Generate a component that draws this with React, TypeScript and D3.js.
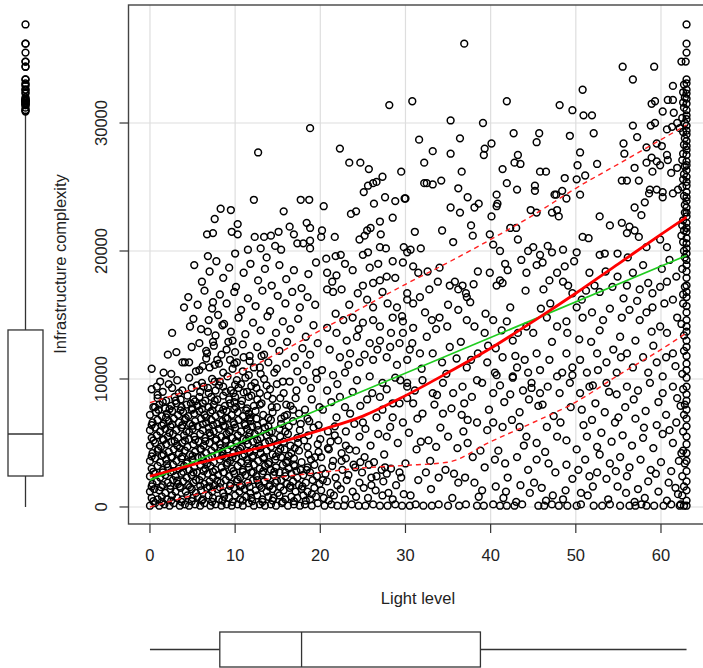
import { useEffect, useRef } from "react"
import * as d3 from "d3"

// Point clouds: flat [light, complexity (thousands), ...] pairs
const coreBottom = [
  0, 0.1, 0.6, 0.3, 1.1, 0.1, 1.7, 0.2, 2.3, 0.1, 2.8, 0.3, 3.5, 0.1, 4.1, 0.2, 4.6, 0.1, 5.3, 0.2, 5.9, 0.1, 6.4, 0.3,
  7.1, 0.1, 7.7, 0.2, 8.4, 0.1, 9.0, 0.2, 9.6, 0.1, 10.3, 0.2, 10.9, 0.1, 11.6, 0.3, 12.2, 0.1, 12.9, 0.2, 13.5, 0.1,
  14.2, 0.2, 14.8, 0.1, 15.5, 0.3, 16.2, 0.1, 16.9, 0.2, 17.6, 0.1, 18.2, 0.2, 19.0, 0.1, 19.7, 0.3, 20.5, 0.1, 21.3, 0.2,
  22.0, 0.1, 22.8, 0.1, 23.7, 0.2, 24.5, 0.1, 25.3, 0.1, 26.2, 0.2, 27.0, 0.1, 27.9, 0.1, 28.8, 0.2, 29.6, 0.1,
  0.2, 0.7, 0.9, 0.6, 1.4, 0.8, 2.0, 0.6, 2.6, 0.9, 3.2, 0.7, 3.8, 0.6, 4.4, 0.9, 5.0, 0.7, 5.6, 0.8, 6.2, 0.6, 6.9, 0.9,
  7.4, 0.7, 8.1, 0.6, 8.7, 0.8, 9.3, 0.7, 10.0, 0.9, 10.6, 0.6, 11.3, 0.8, 11.9, 0.7, 12.6, 0.9, 13.2, 0.6, 13.9, 0.8,
  14.5, 0.7, 15.2, 0.9, 15.9, 0.6, 16.6, 0.8, 17.3, 0.7, 18.0, 0.9, 18.8, 0.6, 19.5, 0.8, 20.4, 0.7, 21.6, 0.9, 22.9, 0.6,
  24.2, 0.8, 25.6, 0.7, 27.3, 0.9,
]
const coreLow = [
  0.0, 1.2, 0.5, 1.4, 1.1, 1.3, 1.8, 1.1, 2.4, 1.4, 3.0, 1.2, 3.6, 1.5, 4.2, 1.2, 4.9, 1.4, 5.4, 1.1, 6.0, 1.3, 6.7, 1.5,
  7.3, 1.2, 7.9, 1.4, 8.6, 1.1, 9.2, 1.3, 9.9, 1.5, 10.5, 1.2, 11.1, 1.4, 11.8, 1.1, 12.4, 1.3, 13.1, 1.5, 13.7, 1.2,
  14.4, 1.4, 15.0, 1.1, 15.7, 1.3, 16.4, 1.5, 17.1, 1.2, 17.8, 1.4, 18.5, 1.2, 19.3, 1.5, 20.1, 1.3, 21.2, 1.1, 22.4, 1.4,
  23.8, 1.2, 25.1, 1.5, 26.5, 1.3, 28.0, 1.1,
  0.3, 1.8, 0.8, 2.0, 1.5, 1.7, 2.1, 1.9, 2.7, 2.1, 3.3, 1.8, 3.9, 2.0, 4.5, 1.7, 5.1, 1.9, 5.8, 2.1, 6.4, 1.8, 7.0, 2.0,
  7.6, 1.7, 8.3, 1.9, 8.9, 2.1, 9.5, 1.8, 10.2, 2.0, 10.8, 1.7, 11.5, 1.9, 12.1, 2.1, 12.8, 1.8, 13.4, 2.0, 14.1, 1.7,
  14.7, 1.9, 15.4, 2.1, 16.1, 1.8, 16.8, 2.0, 17.5, 1.7, 18.3, 1.9, 19.1, 2.1, 19.9, 1.8, 20.8, 2.0, 22.0, 1.7, 23.1, 2.1,
  24.6, 1.9, 26.0, 1.7, 27.4, 2.0,
]
const coreMid = [
  0.0, 2.4, 0.6, 2.6, 1.2, 2.3, 1.8, 2.5, 2.4, 2.7, 3.0, 2.4, 3.7, 2.6, 4.3, 2.3, 4.9, 2.5, 5.5, 2.7, 6.1, 2.4, 6.8, 2.6,
  7.4, 2.3, 8.0, 2.5, 8.7, 2.7, 9.3, 2.4, 9.9, 2.6, 10.6, 2.3, 11.2, 2.5, 11.9, 2.7, 12.5, 2.4, 13.2, 2.6, 13.8, 2.3,
  14.5, 2.5, 15.2, 2.7, 15.9, 2.4, 16.6, 2.6, 17.3, 2.3, 18.0, 2.5, 18.8, 2.7, 19.6, 2.4, 20.6, 2.6, 21.8, 2.3, 23.3, 2.5,
  24.9, 2.7, 26.6, 2.4,
  0.2, 3.0, 0.9, 3.2, 1.5, 2.9, 2.1, 3.1, 2.7, 3.3, 3.4, 3.0, 4.0, 3.2, 4.6, 2.9, 5.2, 3.1, 5.9, 3.3, 6.5, 3.0, 7.1, 3.2,
  7.7, 2.9, 8.4, 3.1, 9.0, 3.3, 9.6, 3.0, 10.3, 3.2, 10.9, 2.9, 11.6, 3.1, 12.2, 3.3, 12.9, 3.0, 13.5, 3.2, 14.2, 2.9,
  14.8, 3.1, 15.6, 3.3, 16.3, 3.0, 17.0, 3.2, 17.7, 2.9, 18.5, 3.1, 19.3, 3.3, 20.2, 3.0, 21.4, 3.2, 22.6, 2.9, 24.1, 3.1,
  25.7, 3.3, 27.2, 2.9,
]
const coreUpper = [
  0.0, 3.6, 0.6, 3.8, 1.2, 3.5, 1.9, 3.7, 2.5, 3.9, 3.1, 3.6, 3.7, 3.8, 4.4, 3.5, 5.0, 3.7, 5.6, 3.9, 6.3, 3.6, 6.9, 3.8,
  7.5, 3.5, 8.2, 3.7, 8.8, 3.9, 9.4, 3.6, 10.1, 3.8, 10.7, 3.5, 11.4, 3.7, 12.0, 3.9, 12.7, 3.6, 13.3, 3.8, 14.0, 3.5,
  14.7, 3.7, 15.4, 3.9, 16.1, 3.6, 16.9, 3.8, 17.8, 3.5, 18.9, 3.7, 20.1, 3.9, 21.5, 3.6, 23.0, 3.8, 24.7, 3.5,
  0.3, 4.2, 0.9, 4.4, 1.6, 4.1, 2.2, 4.3, 2.8, 4.5, 3.4, 4.2, 4.1, 4.4, 4.7, 4.1, 5.3, 4.3, 6.0, 4.5, 6.6, 4.2, 7.2, 4.4,
  7.9, 4.1, 8.5, 4.3, 9.1, 4.5, 9.8, 4.2, 10.4, 4.4, 11.1, 4.1, 11.7, 4.3, 12.4, 4.5, 13.0, 4.2, 13.7, 4.4, 14.4, 4.1,
  15.1, 4.3, 15.8, 4.5, 16.6, 4.2, 17.5, 4.4, 18.6, 4.1, 19.8, 4.3, 21.0, 4.5, 22.5, 4.2, 24.2, 4.4,
  0.0, 4.8, 0.6, 5.0, 1.3, 4.7, 1.9, 4.9, 2.5, 5.1, 3.2, 4.8, 3.8, 5.0, 4.4, 4.7, 5.1, 4.9, 5.7, 5.1, 6.3, 4.8, 7.0, 5.0,
  7.6, 4.7, 8.2, 4.9, 8.9, 5.1, 9.5, 4.8, 10.2, 5.0, 10.8, 4.7, 11.5, 4.9, 12.1, 5.1, 12.8, 4.8, 13.5, 5.0, 14.2, 4.7,
  14.9, 4.9, 15.7, 5.1, 16.5, 4.8, 17.4, 5.0, 18.5, 4.7, 19.7, 4.9, 21.2, 5.1, 23.0, 4.8,
]
const coreTop = [
  0.2, 5.4, 0.8, 5.6, 1.5, 5.3, 2.1, 5.5, 2.7, 5.7, 3.3, 5.4, 4.0, 5.6, 4.6, 5.3, 5.2, 5.5, 5.9, 5.7, 6.5, 5.4, 7.1, 5.6,
  7.8, 5.3, 8.4, 5.5, 9.0, 5.7, 9.7, 5.4, 10.3, 5.6, 11.0, 5.3, 11.6, 5.5, 12.3, 5.7, 13.0, 5.4, 13.7, 5.6, 14.5, 5.3,
  15.3, 5.5, 16.2, 5.7, 17.3, 5.4, 18.6, 5.6, 20.0, 5.3, 21.7, 5.6,
  0.0, 6.0, 0.6, 6.2, 1.2, 5.9, 1.8, 6.1, 2.4, 6.3, 3.1, 6.0, 3.7, 6.2, 4.3, 5.9, 5.0, 6.1, 5.6, 6.3, 6.2, 6.0, 6.9, 6.2,
  7.5, 5.9, 8.1, 6.1, 8.8, 6.3, 9.4, 6.0, 10.0, 6.2, 10.7, 5.9, 11.4, 6.1, 12.0, 6.3, 12.7, 6.0, 13.5, 6.2, 14.3, 5.9,
  15.2, 6.1, 16.3, 6.3, 17.6, 6.0, 19.2, 6.2, 20.9, 5.9,
  0.3, 6.6, 0.9, 6.8, 1.6, 6.5, 2.2, 6.7, 2.8, 6.9, 3.4, 6.6, 4.1, 6.8, 4.7, 6.5, 5.3, 6.7, 6.0, 6.9, 6.6, 6.6, 7.2, 6.8,
  7.9, 6.5, 8.5, 6.7, 9.1, 6.9, 9.8, 6.6, 10.4, 6.8, 11.1, 6.5, 11.8, 6.7, 12.5, 6.9, 13.3, 6.6, 14.2, 6.8, 15.4, 6.5,
  16.8, 6.7, 18.5, 6.9,
]
const coreCap = [
  0.0, 7.2, 0.7, 7.4, 1.4, 7.1, 2.0, 7.3, 2.6, 7.5, 3.3, 7.2, 3.9, 7.4, 4.5, 7.1, 5.2, 7.3, 5.8, 7.5, 6.4, 7.2, 7.1, 7.4,
  7.7, 7.1, 8.3, 7.3, 9.0, 7.5, 9.6, 7.2, 10.3, 7.4, 10.9, 7.1, 11.6, 7.3, 12.4, 7.5, 13.3, 7.2, 14.4, 7.4, 15.8, 7.1,
  17.5, 7.3,
  0.4, 7.8, 1.1, 8.0, 1.8, 7.7, 2.5, 7.9, 3.1, 8.1, 3.7, 7.8, 4.3, 8.0, 5.0, 7.7, 5.6, 7.9, 6.2, 8.1, 6.9, 7.8, 7.5, 8.0,
  8.1, 7.7, 8.8, 7.9, 9.4, 8.1, 10.1, 7.8, 10.7, 8.0, 11.4, 7.7, 12.2, 7.9, 13.1, 8.1, 14.3, 7.8, 16.0, 8.0,
  0.9, 8.5, 1.9, 8.3, 2.9, 8.6, 3.6, 8.4, 4.4, 8.7, 5.1, 8.4, 5.8, 8.6, 6.5, 8.3, 7.2, 8.6, 7.9, 8.4, 8.6, 8.7, 9.3, 8.4,
  10.0, 8.6, 10.8, 8.3, 11.6, 8.6, 12.6, 8.4, 13.8, 8.7, 15.3, 8.5,
  0.2, 9.2, 1.5, 9.0, 2.6, 9.3, 3.8, 9.1, 4.9, 9.3, 5.9, 9.0, 6.8, 9.3, 7.7, 9.1, 8.6, 9.4, 9.5, 9.1, 10.4, 9.3, 11.4, 9.0,
  12.5, 9.3, 14.1, 9.2,
]
// extra points filling the darkest part of the cloud
const coreInfill = [
  0.4, 0.45, 1.4, 0.4, 2.5, 0.5, 3.7, 0.4, 4.9, 0.45, 6.1, 0.5, 7.3, 0.4, 8.5, 0.5, 9.7, 0.4, 10.9, 0.5, 12.0, 0.45,
  13.2, 0.4, 14.4, 0.5, 15.6, 0.4, 16.9, 0.45, 18.3, 0.5,
  0.2, 1.6, 1.3, 1.55, 2.4, 1.65, 3.5, 1.6, 4.7, 1.55, 5.9, 1.65, 7.0, 1.6, 8.2, 1.55, 9.4, 1.65, 10.6, 1.6, 11.7, 1.55,
  12.9, 1.65, 14.0, 1.6, 15.3, 1.55, 16.5, 1.65, 17.9, 1.6,
  0.4, 2.75, 1.5, 2.7, 2.7, 2.8, 3.9, 2.75, 5.1, 2.7, 6.3, 2.8, 7.4, 2.75, 8.6, 2.7, 9.8, 2.8, 10.9, 2.75, 12.1, 2.7,
  13.3, 2.8, 14.6, 2.75, 15.9, 2.7, 17.2, 2.8,
  0.2, 3.95, 1.4, 4.0, 2.6, 3.9, 3.8, 3.95, 5.0, 4.0, 6.1, 3.9, 7.3, 3.95, 8.5, 4.0, 9.7, 3.9, 10.9, 3.95, 12.1, 4.0,
  13.4, 3.9, 14.8, 3.95, 16.3, 4.0,
  0.4, 5.2, 1.6, 5.25, 2.9, 5.15, 4.1, 5.2, 5.3, 5.25, 6.5, 5.15, 7.7, 5.2, 8.9, 5.25, 10.1, 5.15, 11.3, 5.2, 12.6, 5.25,
  14.0, 5.15,
  0.2, 6.4, 1.4, 6.35, 2.6, 6.45, 3.8, 6.4, 5.0, 6.35, 6.2, 6.45, 7.4, 6.4, 8.6, 6.35, 9.9, 6.45, 11.2, 6.4, 12.6, 6.35,
  1.0, 7.6, 2.3, 7.65, 3.6, 7.55, 4.9, 7.6, 6.1, 7.65, 7.3, 7.55, 8.6, 7.6, 9.9, 7.65, 11.3, 7.55,
  2.2, 9.6, 3.4, 8.9, 4.8, 8.1, 5.5, 9.5, 6.9, 8.9, 7.6, 9.8, 8.9, 9.0, 9.9, 8.2, 10.7, 9.6, 11.9, 8.7, 12.9, 8.0,
  13.7, 9.5, 14.9, 7.8, 15.4, 6.9, 16.8, 7.6, 13.9, 6.3, 11.7, 6.9, 15.9, 5.9, 17.0, 4.6, 18.1, 5.2, 16.9, 3.3,
  18.4, 2.9, 19.4, 3.9, 20.3, 2.1, 21.0, 0.5, 19.0, 1.0,
]
const coreInfillDeep = [
  3.2, 2.05, 5.4, 2.1, 7.9, 2.05, 10.3, 2.15, 12.6, 2.1, 14.9, 2.05,
  2.0, 3.35, 4.3, 3.4, 6.7, 3.35, 9.1, 3.45, 11.5, 3.4, 13.9, 3.35, 16.0, 3.45,
  1.0, 4.55, 3.5, 4.6, 5.9, 4.55, 8.3, 4.6, 10.6, 4.55, 12.9, 4.6, 15.3, 4.55,
  2.3, 5.8, 4.6, 5.85, 7.0, 5.8, 9.3, 5.85, 11.7, 5.8, 14.0, 5.85,
  1.9, 7.0, 4.2, 6.95, 6.6, 7.0, 8.9, 6.95, 11.8, 7.0, 13.9, 6.95,
  3.0, 8.3, 5.3, 8.25, 7.6, 8.3, 9.8, 8.9, 11.0, 8.95, 12.9, 8.9, 14.4, 8.45,
  6.3, 9.4, 8.1, 9.5, 10.0, 9.55, 11.9, 9.45, 13.0, 10.4, 11.6, 10.3,
]
const coreFringe = [
  1.2, 9.8, 3.2, 9.9, 4.6, 10.1, 6.1, 9.7, 7.3, 10.0, 8.2, 9.8, 9.1, 10.2, 10.2, 9.9, 11.2, 10.1, 12.3, 9.7, 13.4, 10.0,
  15.6, 9.8, 0.2, 10.8, 2.5, 10.4, 5.4, 10.6, 7.0, 10.9, 8.6, 10.5, 9.7, 10.8, 10.9, 10.6, 12.2, 10.9, 14.6, 10.5,
  4.1, 11.3, 6.6, 11.6, 8.1, 11.2, 9.4, 11.5, 11.7, 11.4, 13.1, 11.8, 1.6, 10.5, 2.1, 11.9, 3.8, 11.3, 4.6, 11.3,
  5.8, 10.7, 4.9, 12.5, 6.8, 13.7, 8.0, 15.0, 8.5, 14.2, 7.4, 12.9, 4.7, 14.1, 7.4, 16.0, 6.7, 12.0, 7.9, 11.5,
  9.0, 12.3, 9.7, 13.0, 10.2, 11.3, 0.8, 9.4, 0.9, 8.75, 1.5, 8.2, 0.6, 7.8, 2.6, 13.6, 4.0, 15.6, 3.1, 12.1,
]
const leftScatter = [
  5.2, 18.9, 6.1, 17.6, 7.0, 18.4, 7.8, 19.2, 8.6, 17.9, 9.3, 18.7, 10.1, 17.2, 11.0, 18.3, 11.8, 19.0, 12.7, 17.7,
  13.5, 18.6, 14.3, 17.3, 15.2, 18.9, 16.0, 17.8, 16.9, 18.5, 17.8, 17.1, 18.6, 18.2, 19.5, 19.1,
  4.5, 16.4, 5.6, 15.8, 6.4, 16.9, 7.3, 15.5, 8.2, 16.6, 9.0, 15.9, 9.9, 16.8, 10.7, 15.4, 11.5, 16.3, 12.4, 15.7,
  13.2, 16.9, 14.1, 15.3, 15.0, 16.5, 15.9, 15.9, 16.7, 16.8, 17.6, 15.6, 18.5, 16.4, 19.4, 15.8,
  5.1, 14.7, 6.0, 13.9, 6.9, 14.6, 7.7, 13.4, 8.7, 14.3, 9.5, 13.7, 10.4, 14.8, 11.2, 13.5, 12.1, 14.4, 13.0, 13.8,
  13.8, 14.9, 14.8, 13.6, 15.6, 14.5, 16.5, 13.9, 17.4, 14.7, 18.3, 13.3, 19.2, 14.2,
  5.8, 12.8, 6.6, 12.2, 7.5, 12.6, 8.4, 11.9, 9.2, 12.9, 10.0, 12.1, 10.9, 12.7, 11.7, 11.8, 12.6, 12.5, 13.4, 11.9,
  14.3, 12.8, 15.2, 12.2, 16.1, 12.9, 17.0, 11.7, 17.9, 12.4, 18.8, 11.9, 19.7, 12.8,
  6.2, 11.0, 7.6, 11.1, 9.9, 11.2, 11.0, 11.7, 12.9, 10.9, 13.9, 11.3, 14.9, 10.8, 16.0, 11.2, 17.3, 10.6, 18.4, 11.1,
  19.5, 10.5, 14.9, 9.6, 15.7, 8.9, 16.4, 9.8, 17.2, 9.1, 18.0, 9.9, 18.9, 9.3, 19.6, 10.0, 16.5, 7.9, 17.1, 8.5,
  18.2, 7.6, 19.0, 8.4, 19.9, 7.8, 16.1, 7.2, 18.7, 6.7, 19.8, 6.4, 17.7, 6.5,
]
const upperLeft = [
  28.1, 31.4, 18.8, 29.6, 12.7, 27.7, 22.3, 28.0, 23.4, 26.9, 24.7, 26.9, 25.7, 26.4, 29.5, 26.2, 27.3, 25.8, 26.6, 25.4,
  26.2, 25.3, 25.6, 25.1, 25.1, 24.6, 32.2, 25.3, 12.2, 24.0, 17.7, 24.0, 18.7, 24.0, 20.4, 23.5, 26.3, 23.7, 27.6, 24.2,
  28.8, 23.9, 29.9, 24.1, 8.3, 23.3, 9.5, 23.2, 7.6, 22.5, 15.7, 23.1, 23.6, 22.9, 24.2, 23.1, 28.5, 22.6, 27.0, 22.3,
  6.7, 21.3, 7.4, 21.4, 9.6, 21.5, 10.3, 22.1, 10.3, 21.3, 12.3, 21.1, 13.4, 21.1, 14.2, 21.2, 15.1, 21.5, 16.4, 21.9,
  16.9, 21.3, 18.4, 22.2, 18.8, 21.8, 20.2, 21.6, 20.1, 21.1, 21.7, 21.1, 24.6, 20.9, 25.2, 21.2, 25.5, 21.6, 25.9, 21.8,
  27.1, 21.3, 31.1, 21.5, 6.8, 19.6, 10.0, 19.8, 11.5, 20.1, 13.0, 20.2, 13.7, 19.5, 14.7, 20.4, 15.4, 20.1, 17.3, 20.6,
  18.0, 20.6, 18.8, 20.8, 18.8, 20.2, 21.8, 19.6, 22.4, 19.7, 25.0, 19.7, 25.6, 19.9, 27.0, 20.3, 27.7, 20.2, 29.8, 20.3,
  30.6, 20.1, 31.8, 20.2,
]
const midBand = [
  20.8, 18.3, 21.4, 17.6, 21.9, 18.1, 22.5, 17.0, 20.8, 17.0, 21.5, 16.8, 23.8, 18.5, 25.8, 18.7, 26.2, 17.5, 27.0, 17.7,
  27.8, 18.0, 28.8, 17.9, 27.3, 16.8, 24.4, 16.7, 25.5, 16.2, 26.2, 15.6, 27.9, 15.9, 29.0, 15.6, 30.2, 16.2,
  22.7, 14.6, 23.8, 14.8, 25.0, 14.4, 26.2, 14.6, 27.0, 14.1, 28.5, 14.8, 29.7, 14.5, 30.9, 14.0,
  20.8, 14.0, 21.9, 13.6, 23.1, 13.0, 24.3, 13.3, 25.8, 12.8, 27.0, 13.0, 28.2, 12.5, 29.3, 12.8, 30.5, 12.3,
  21.1, 12.3, 22.3, 11.7, 23.5, 12.0, 24.6, 11.3, 26.2, 11.5, 27.8, 11.7, 29.0, 11.1, 30.2, 11.5,
  20.2, 10.7, 21.5, 10.3, 22.9, 10.5, 24.3, 9.9, 25.8, 10.2, 27.3, 9.7, 28.8, 10.1, 30.2, 9.4,
  20.8, 9.1, 22.3, 8.6, 23.8, 9.0, 25.5, 8.4, 27.0, 8.6, 28.5, 8.1, 30.2, 8.5,
  20.3, 7.6, 21.9, 7.0, 23.5, 7.3, 25.0, 6.6, 26.6, 7.0, 28.2, 6.25, 29.7, 6.6,
  20.9, 4.6, 22.1, 5.2, 23.4, 4.5, 24.6, 5.5, 25.9, 4.8, 26.8, 5.7, 21.7, 6.3, 23.0, 5.9, 24.0, 6.5, 25.3, 6.1,
  22.5, 3.6, 23.9, 3.3, 25.2, 3.9, 26.3, 3.5, 27.5, 4.1, 28.3, 3.0, 26.0, 2.3, 27.8, 2.6, 28.9, 1.7, 29.5, 2.3,
  28.5, 0.6, 29.8, 1.0,
  21.3, 8.2, 22.9, 7.8, 24.7, 7.9, 26.1, 8.9, 27.8, 9.2, 29.4, 9.9, 22.0, 9.6, 23.3, 11.1, 25.2, 11.9, 26.7, 12.3,
  28.3, 13.6, 29.6, 14.9, 21.8, 15.1, 23.4, 15.8, 25.0, 17.3, 26.8, 19.0, 28.5, 19.2, 22.9, 19.0, 20.7, 19.4, 24.5, 13.9,
]
const rightUpper = [
  36.9, 36.2, 30.8, 31.7, 41.9, 31.7, 48.1, 31.4, 49.6, 31.0, 50.8, 32.6, 50.9, 30.6, 51.9, 30.6, 35.3, 30.2, 39.1, 30.0,
  31.6, 28.7, 36.4, 28.8, 42.7, 29.2, 45.7, 29.2, 45.4, 28.5, 49.3, 29.0, 52.1, 29.2, 33.2, 27.8, 35.3, 27.6, 39.3, 28.0,
  39.2, 27.5, 40.1, 28.4, 43.2, 27.5, 42.8, 26.9, 43.5, 26.8, 50.5, 27.7, 50.2, 26.7, 52.5, 26.8, 32.2, 26.9, 36.6, 26.2,
  41.4, 26.4, 45.8, 26.2, 46.5, 26.2,
  55.5, 34.4, 59.2, 34.4, 56.7, 33.4, 61.4, 32.9, 58.9, 31.5, 59.3, 31.7, 60.8, 31.8, 61.4, 31.8, 60.2, 30.9, 61.5, 30.8,
  56.7, 29.8, 58.8, 29.8, 59.3, 30.0, 57.2, 28.9, 55.6, 28.4, 55.7, 27.6, 58.3, 28.1, 59.5, 28.4, 60.1, 28.2, 60.7, 29.5,
  61.3, 29.7, 61.9, 30.0, 62.2, 29.6, 51.1, 25.9, 48.7, 25.7, 45.2, 25.1, 45.2, 24.7, 47.7, 24.4, 48.4, 24.7, 55.4, 25.5,
  56.0, 25.5, 57.4, 25.5, 58.3, 26.9, 58.9, 27.3, 59.5, 27.0, 59.9, 26.7, 60.7, 27.5, 60.8, 27.1, 61.2, 26.1, 61.9, 26.5,
  58.7, 24.8, 59.5, 24.8, 60.2, 24.6, 61.4, 24.5, 62.0, 24.8,
  32.5, 25.3, 33.2, 25.2, 34.2, 25.5, 30.0, 24.1, 36.2, 24.9, 37.3, 24.2, 38.6, 23.7, 38.1, 23.4, 40.7, 24.4, 40.8, 23.7,
  40.7, 23.5, 41.9, 25.3, 43.1, 24.8, 47.5, 24.4, 48.9, 24.1, 50.5, 24.4, 50.1, 25.6, 35.3, 23.4, 36.4, 23.0, 40.1, 22.7,
  42.3, 21.8, 43.0, 21.8, 44.7, 23.2, 45.4, 23.0, 47.2, 23.0, 47.8, 23.2, 48.0, 22.7, 34.3, 21.6, 35.6, 20.7, 37.7, 22.0,
  37.9, 21.2, 39.9, 21.3, 40.3, 20.5, 41.1, 20.0, 43.2, 20.9, 44.4, 20.0, 45.0, 20.3, 45.8, 19.7, 46.7, 20.4, 47.2, 19.9,
  48.5, 20.1, 50.1, 19.9, 50.8, 21.1, 51.5, 21.0, 52.8, 22.7, 54.0, 22.0, 52.8, 19.7, 53.4, 19.8, 54.9, 19.8, 56.1, 19.5,
  56.9, 26.5, 59.0, 26.2, 58.1, 23.8, 58.6, 24.5, 60.2, 24.2, 56.9, 23.4, 57.7, 22.8, 55.4, 22.2, 56.3, 21.9, 56.9, 21.6,
  56.0, 21.4, 57.4, 21.1, 58.3, 20.3, 59.9, 20.9, 60.7, 20.3, 61.0, 19.3, 30.2, 19.9, 29.7, 19.1,
]
const rightMid = [
  30.9, 18.8, 31.5, 18.3, 32.6, 18.4, 34.0, 18.7, 33.8, 17.6, 35.2, 17.3, 36.2, 17.0, 37.2, 16.4, 37.6, 16.0, 35.8, 17.6,
  36.7, 17.3, 37.1, 16.7, 38.5, 18.4, 39.9, 18.3, 41.1, 17.7, 42.0, 18.5, 40.7, 17.3, 41.4, 17.5, 44.2, 18.3, 45.4, 18.9,
  46.1, 19.1, 46.9, 17.7, 47.8, 18.3, 48.5, 17.6, 49.1, 17.3, 49.6, 16.7, 50.7, 16.2, 51.6, 18.3, 52.2, 17.3, 52.8, 16.8,
  54.3, 17.2, 54.9, 18.0, 56.0, 17.3, 56.7, 18.3, 57.5, 17.0, 58.5, 17.5, 59.0, 16.7, 59.9, 17.2, 60.7, 17.6, 61.4, 16.2,
  30.2, 16.7, 30.9, 15.9, 31.7, 16.4, 32.3, 15.2, 33.1, 14.6, 34.0, 14.8, 34.9, 14.1, 36.2, 15.4, 37.2, 14.6, 38.1, 14.1,
  39.3, 13.6, 40.3, 14.6, 41.3, 13.8, 41.9, 14.5, 42.6, 13.0, 43.2, 13.6, 44.2, 14.1, 45.0, 13.6, 46.6, 14.8, 47.8, 14.1,
  48.9, 14.5, 50.1, 15.6, 50.8, 14.8, 51.9, 15.2, 52.8, 13.8, 54.0, 15.5, 55.4, 14.8, 56.3, 15.4, 57.5, 14.6, 58.3, 15.2,
  59.0, 15.6, 59.9, 14.1, 60.7, 13.6, 61.9, 14.8,
  29.7, 13.6, 30.8, 12.8, 31.7, 12.0, 32.5, 13.3, 33.2, 12.0, 34.3, 11.3, 35.2, 12.5, 36.0, 11.6, 37.2, 10.9, 38.5, 12.0,
  39.6, 11.3, 40.5, 10.5, 41.4, 11.7, 42.6, 10.2, 43.1, 10.9, 44.0, 11.5, 45.4, 12.0, 45.8, 10.7, 46.9, 11.5, 47.8, 10.2,
  48.9, 12.0, 49.6, 10.9, 50.5, 11.5, 51.3, 10.5, 52.5, 12.0, 53.6, 11.3, 54.8, 10.5, 56.0, 12.0, 56.7, 10.9, 57.9, 11.7,
  58.5, 10.5, 59.5, 11.3, 60.2, 10.2, 61.4, 12.0,
  30.2, 9.7, 31.1, 9.1, 32.0, 9.9, 33.2, 8.9, 34.4, 9.7, 35.6, 8.9, 36.7, 9.4, 37.8, 8.6, 39.0, 9.7, 40.3, 8.9, 41.1, 9.5,
  42.3, 8.8, 43.8, 9.1, 44.8, 9.7, 45.8, 8.9, 46.7, 9.4, 48.1, 8.9, 49.3, 9.7, 50.5, 8.9, 51.6, 9.4, 53.6, 9.7, 54.8, 8.8,
  56.0, 9.4, 57.3, 9.1, 58.7, 9.7, 60.2, 8.9, 61.4, 9.4, 38.4, 9.9, 40.7, 10.3, 42.6, 10.1, 44.4, 10.5, 44.8, 9.3,
  46.1, 8.0, 48.4, 10.5, 49.6, 10.3, 50.7, 7.6, 51.9, 6.8, 52.0, 9.5, 33.7, 8.75,
  31.9, 10.8, 33.6, 13.9, 35.0, 15.8, 36.5, 12.9, 38.0, 17.4, 39.4, 15.1, 34.8, 10.4, 37.7, 11.5, 32.8, 17.0, 39.7, 12.6,
  40.6, 12.4, 42.3, 15.6, 44.1, 16.9, 45.9, 15.5, 47.2, 12.9, 49.0, 13.6, 41.7, 19.0, 43.6, 19.3, 46.2, 17.0, 48.7, 18.8,
  42.9, 11.8, 47.0, 15.9, 49.8, 19.2, 51.8, 12.9, 53.2, 14.6, 55.2, 13.3, 57.0, 13.0, 58.9, 13.7, 60.4, 15.9, 61.7, 11.0,
  51.2, 16.9, 53.5, 18.4, 55.6, 16.3, 57.9, 18.9, 60.1, 18.6, 61.8, 18.0, 52.6, 10.7, 55.3, 11.7, 59.1, 12.6, 50.4, 13.1,
  54.4, 12.3, 57.2, 16.1, 60.6, 11.7,
]
const rightLow = [
  30.9, 8.1, 32.0, 7.3, 33.4, 8.0, 34.4, 7.3, 35.4, 7.7, 36.6, 7.2, 37.3, 6.8, 27.3, 7.6, 28.5, 7.0, 29.3, 8.1, 38.4, 6.6,
  39.6, 6.0, 40.3, 6.6, 41.4, 6.25, 42.5, 6.8, 43.4, 6.25, 44.2, 5.5, 45.4, 5.0, 46.6, 6.25, 47.8, 5.5, 48.9, 5.2,
  50.1, 4.5, 51.3, 5.5, 52.5, 4.7, 27.8, 5.5, 29.1, 5.0, 30.4, 5.8, 31.3, 4.5, 32.7, 5.2, 33.6, 4.7, 35.0, 5.5, 36.1, 4.6,
  37.3, 5.0, 37.9, 3.9, 39.3, 3.1, 40.5, 3.7, 41.7, 3.4, 43.1, 3.9, 44.4, 2.9, 45.4, 3.7, 46.8, 3.4, 47.6, 2.7, 48.9, 3.3,
  50.3, 2.9, 51.1, 3.7, 52.5, 2.7, 27.6, 3.1, 29.3, 2.7, 30.0, 3.4, 31.5, 2.1, 32.4, 2.7, 33.9, 2.3, 34.7, 2.9, 36.2, 1.9,
  37.0, 2.3, 38.1, 1.9, 39.0, 1.3, 40.6, 1.6, 41.8, 1.2, 43.5, 1.7, 44.6, 1.1, 46.0, 1.5, 47.3, 0.9, 48.8, 1.3, 50.6, 1.1,
  52.0, 1.6,
  53.4, 7.4, 54.6, 6.6, 55.8, 7.8, 57.0, 6.9, 58.2, 7.5, 59.5, 6.4, 60.6, 7.2, 61.8, 6.6, 62.3, 7.9, 53.0, 5.8, 54.2, 5.1,
  55.5, 5.6, 56.6, 4.8, 57.9, 5.4, 59.1, 4.6, 60.2, 5.7, 61.4, 5.0, 62.4, 4.2, 52.8, 4.1, 54.0, 3.4, 55.2, 3.9, 56.3, 3.1,
  57.6, 3.7, 58.8, 2.9, 60.0, 3.5, 61.2, 2.8, 62.1, 3.6, 53.6, 2.2, 54.9, 1.6, 56.0, 2.4, 57.3, 1.4, 58.5, 2.0, 59.7, 1.2,
  60.9, 1.9, 62.0, 1.0,
  30.5, 0.1, 31.2, 0.2, 32.1, 0.1, 33.1, 0.1, 33.9, 0.2, 35.0, 0.1, 36.3, 0.1, 37.1, 0.2, 38.4, 0.1, 39.2, 0.1, 40.3, 0.2,
  41.1, 0.1, 41.9, 0.1, 42.8, 0.1, 43.7, 0.2, 45.6, 0.1, 46.3, 0.1, 47.2, 0.2, 48.0, 0.1, 49.0, 0.1, 50.1, 0.1, 50.6, 0.2,
  52.1, 0.1, 53.1, 0.1, 54.0, 0.2, 55.2, 0.1, 56.3, 0.1, 57.0, 0.1, 57.7, 0.2, 58.3, 0.1, 59.2, 0.1, 60.3, 0.1, 61.2, 0.2,
  62.2, 0.1, 62.7, 0.1,
  31.4, 6.9, 32.9, 3.6, 34.1, 6.2, 35.7, 2.6, 36.8, 5.9, 38.8, 4.4, 39.8, 7.6, 30.6, 0.9, 33.0, 1.4, 35.5, 0.7, 38.6, 0.8,
  31.8, 5.1, 36.9, 8.1, 40.9, 4.4, 42.0, 2.3, 43.9, 4.8, 45.1, 1.9, 46.4, 4.3, 48.2, 6.6, 49.6, 2.2, 41.6, 8.2, 43.4, 7.4,
  45.6, 7.9, 47.4, 7.1, 49.4, 7.8, 44.5, 8.4, 46.5, 0.5, 48.5, 0.6, 41.5, 0.7, 43.0, 0.4,
  50.9, 6.4, 52.3, 8.1, 53.9, 9.0, 55.0, 7.0, 56.8, 8.4, 58.0, 6.2, 59.7, 8.2, 61.0, 6.0, 61.9, 8.5, 51.4, 0.9, 53.8, 0.6,
  55.9, 1.1, 58.1, 0.7, 60.7, 0.5, 62.5, 0.9, 51.6, 2.4, 54.7, 2.8, 56.9, 0.4, 59.4, 2.6, 61.7, 1.5,
]
// saturated sensors pile up at light level 63
const saturatedColumn = [
  63, 37.7, 63, 36.2, 63, 35.5, 62.9, 34.8, 62.4, 34.8, 63, 33.4, 63, 33.1, 63, 32.6, 63, 32.3, 63, 31.9, 63, 31.5,
  63, 31.0, 63, 30.6, 63, 30.3, 63, 29.8, 63, 29.4, 63, 29.1, 63, 28.6, 63, 28.2, 63, 27.9, 63, 27.5, 63, 27.0, 63, 26.7,
  63, 26.3, 63, 25.8, 63, 25.4, 63, 25.1, 63, 24.6, 63, 24.2, 63, 23.9, 63, 23.4, 63, 23.0, 63, 22.7, 63, 22.2, 63, 21.8,
  63, 21.5, 63, 21.0, 63, 20.6, 63, 20.2, 63, 19.8, 63, 19.3, 63, 18.9, 63, 18.4, 63, 17.9, 63, 17.3, 63, 16.8, 63, 16.4,
  63, 15.7, 63, 15.2, 63, 14.6, 63, 14.1, 63, 13.7, 63, 13.0, 63, 12.5, 63, 11.8, 63, 11.2, 63, 10.7, 63, 10.1, 63, 9.4,
  63, 8.8, 63, 8.3, 63, 7.6, 63, 6.9, 63, 6.3, 63, 5.5, 63, 4.9, 63, 4.2, 63, 3.6, 63, 2.8, 63, 2.0, 63, 1.3, 63, 0.5,
  63, 0.1, 62.6, 32.4, 62.7, 31.2, 62.5, 30.4, 62.8, 28.8, 62.6, 27.6, 62.7, 26.0, 62.5, 25.0, 62.8, 23.6, 62.6, 22.4,
  62.4, 21.2, 62.7, 20.0, 62.5, 18.6, 62.8, 17.2, 62.6, 15.9, 62.4, 14.3, 62.7, 12.2, 62.5, 10.4, 62.8, 8.0, 62.6, 5.9,
  62.5, 2.4, 62.3, 0.2,
  62.7, 33.0, 62.8, 32.0, 62.6, 31.6, 62.8, 30.0, 62.6, 29.3, 62.7, 28.3, 62.5, 27.1, 62.8, 26.6, 62.6, 25.6, 62.7, 24.3,
  62.8, 23.0, 62.5, 22.0, 62.7, 21.6, 62.6, 20.7, 62.8, 19.5, 62.6, 16.6, 62.7, 13.4, 62.6, 9.2, 62.7, 7.2, 62.6, 4.4,
  62.8, 3.4, 62.7, 1.6,
]

// Fitted curves (complexity in thousands)
const smoothX = [0, 5, 10, 15, 20, 25, 30, 35, 40, 45, 50, 55, 60, 63]
const smoothFit = [2.4, 3.3, 4.15, 5.0, 6.0, 7.1, 8.7, 10.5, 12.4, 14.5, 16.7, 19.0, 21.3, 22.65]
const smoothUpper = [8.15, 9.2, 10.4, 12.0, 13.8, 15.6, 17.4, 19.1, 20.9, 22.8, 24.9, 26.8, 28.7, 29.85]
const smoothLower = [0.0, 0.9, 1.7, 2.3, 2.7, 3.05, 3.25, 3.5, 5.1, 6.6, 8.2, 10.3, 12.3, 13.6]
const linearX = [0, 63]
const linearFit = [2.1, 19.65]

// Marginal boxplots: [low whisker, Q1, median, Q3, high whisker]
const lightBox = [0, 8.2, 17.8, 38.8, 63]
const complexityBox = [0, 2.42, 5.7, 13.83, 30.8]

const xTicks = [0, 10, 20, 30, 40, 50, 60]
const yTicks = [0, 10, 20, 30]

export default function App() {
  const svgRef = useRef<SVGSVGElement>(null)

  useEffect(() => {
    if (!svgRef.current) return
    const root = d3.select(svgRef.current)
    root.selectAll("*").remove()

    const font = "'Liberation Sans', Arial, Helvetica, sans-serif"
    const plot = { left: 128.5, right: 708, top: 5, bottom: 524 }
    const pointR = 3.4

    const x = d3.scaleLinear().domain([-2.52, 65.52]).range([plot.left, plot.right])
    const y = d3.scaleLinear().domain([-1.33, 39.22]).range([plot.bottom, plot.top])

    const toPoints = (flat: number[]) => d3.range(0, flat.length, 2).map((i) => [flat[i], flat[i + 1]] as [number, number])
    const points = [
      coreBottom, coreLow, coreMid, coreUpper, coreTop, coreCap, coreInfill, coreInfillDeep, coreFringe,
      leftScatter, upperLeft, midBand, rightUpper, rightMid, rightLow, saturatedColumn,
    ].flatMap(toPoints)

    // grid
    const grid = root.append("g").attr("stroke", "#dedede").attr("stroke-width", 1.2)
    xTicks.forEach((t) => {
      grid.append("line").attr("x1", x(t)).attr("x2", x(t)).attr("y1", plot.top).attr("y2", plot.bottom)
    })
    yTicks.forEach((t) => {
      grid.append("line").attr("x1", plot.left).attr("x2", plot.right).attr("y1", y(t)).attr("y2", y(t))
    })

    // points
    root
      .append("g")
      .selectAll("circle")
      .data(points)
      .enter()
      .append("circle")
      .attr("cx", (d) => x(d[0]))
      .attr("cy", (d) => y(d[1]))
      .attr("r", pointR)
      .attr("fill", "none")
      .attr("stroke", "#000")
      .attr("stroke-width", 1.5)

    // fitted lines
    const curve = (ys: number[]) =>
      d3
        .line<number>()
        .x((_, i) => x(smoothX[i]))
        .y((d) => y(d))
        .curve(d3.curveMonotoneX)(ys)

    root
      .append("path")
      .attr("d", d3.line<number>().x((_, i) => x(linearX[i])).y((d) => y(d))(linearFit))
      .attr("fill", "none")
      .attr("stroke", "#1fcc1f")
      .attr("stroke-width", 1.7)

    root
      .append("path")
      .attr("d", curve(smoothFit))
      .attr("fill", "none")
      .attr("stroke", "#ff0000")
      .attr("stroke-width", 2.8)

    ;[smoothUpper, smoothLower].forEach((band) => {
      root
        .append("path")
        .attr("d", curve(band))
        .attr("fill", "none")
        .attr("stroke", "#ff2020")
        .attr("stroke-width", 1.4)
        .attr("stroke-dasharray", "5,4")
    })

    // frame
    root
      .append("rect")
      .attr("x", plot.left)
      .attr("y", plot.top)
      .attr("width", plot.right - plot.left)
      .attr("height", plot.bottom - plot.top)
      .attr("fill", "none")
      .attr("stroke", "#444")
      .attr("stroke-width", 1.4)

    // axes
    const axisColor = "#333"
    xTicks.forEach((t) => {
      root.append("line").attr("x1", x(t)).attr("x2", x(t)).attr("y1", plot.bottom).attr("y2", plot.bottom + 9)
        .attr("stroke", axisColor).attr("stroke-width", 1.2)
      root.append("text").attr("x", x(t)).attr("y", 561).attr("text-anchor", "middle")
        .attr("fill", "#222").style("font-family", font).style("font-size", "16.5px").text(t)
    })
    yTicks.forEach((t) => {
      root.append("line").attr("x1", plot.left - 9).attr("x2", plot.left).attr("y1", y(t)).attr("y2", y(t))
        .attr("stroke", axisColor).attr("stroke-width", 1.2)
      root.append("text").attr("transform", `translate(107,${y(t)}) rotate(-90)`).attr("text-anchor", "middle")
        .attr("fill", "#222").style("font-family", font).style("font-size", "16.5px").text(t * 1000)
    })

    root.append("text").attr("x", 418).attr("y", 604).attr("text-anchor", "middle")
      .attr("fill", "#222").style("font-family", font).style("font-size", "16.5px").text("Light level")
    root.append("text").attr("transform", `translate(66,264) rotate(-90)`).attr("text-anchor", "middle")
      .attr("fill", "#222").style("font-family", font).style("font-size", "16.5px").text("Infrastructure complexity")

    // left boxplot of complexity
    const boxStroke = "#333"
    const lb = root.append("g").attr("stroke", boxStroke).attr("stroke-width", 1.3).attr("fill", "none")
    const lx0 = 8, lx1 = 43, lc = (lx0 + lx1) / 2
    lb.append("line").attr("x1", lc).attr("x2", lc).attr("y1", y(complexityBox[0])).attr("y2", y(complexityBox[1]))
    lb.append("line").attr("x1", lc).attr("x2", lc).attr("y1", y(complexityBox[3])).attr("y2", y(complexityBox[4]))
    lb.append("rect").attr("x", lx0).attr("width", lx1 - lx0)
      .attr("y", y(complexityBox[3])).attr("height", y(complexityBox[1]) - y(complexityBox[3])).attr("fill", "white")
    lb.append("line").attr("x1", lx0).attr("x2", lx1).attr("y1", y(complexityBox[2])).attr("y2", y(complexityBox[2]))
    lb.selectAll("circle")
      .data(points.filter((p) => p[1] > complexityBox[4]))
      .enter()
      .append("circle")
      .attr("cx", lc)
      .attr("cy", (d) => y(d[1]))
      .attr("r", pointR)
      .attr("stroke", "#000")
      .attr("stroke-width", 1.5)

    // bottom boxplot of light level
    const bb = root.append("g").attr("stroke", boxStroke).attr("stroke-width", 1.3).attr("fill", "none")
    const by0 = 632, by1 = 667, bc = 649.5
    bb.append("line").attr("x1", x(lightBox[0])).attr("x2", x(lightBox[1])).attr("y1", bc).attr("y2", bc)
    bb.append("line").attr("x1", x(lightBox[3])).attr("x2", x(lightBox[4])).attr("y1", bc).attr("y2", bc)
    bb.append("rect").attr("x", x(lightBox[1])).attr("width", x(lightBox[3]) - x(lightBox[1]))
      .attr("y", by0).attr("height", by1 - by0).attr("fill", "white")
    bb.append("line").attr("x1", x(lightBox[2])).attr("x2", x(lightBox[2])).attr("y1", by0).attr("y2", by1)
  }, [])

  return (
    <div style={{ position: "absolute", left: 0, top: 0, width: 703, height: 668, background: "white" }}>
      <svg ref={svgRef} width={703} height={668}></svg>
    </div>
  )
}
